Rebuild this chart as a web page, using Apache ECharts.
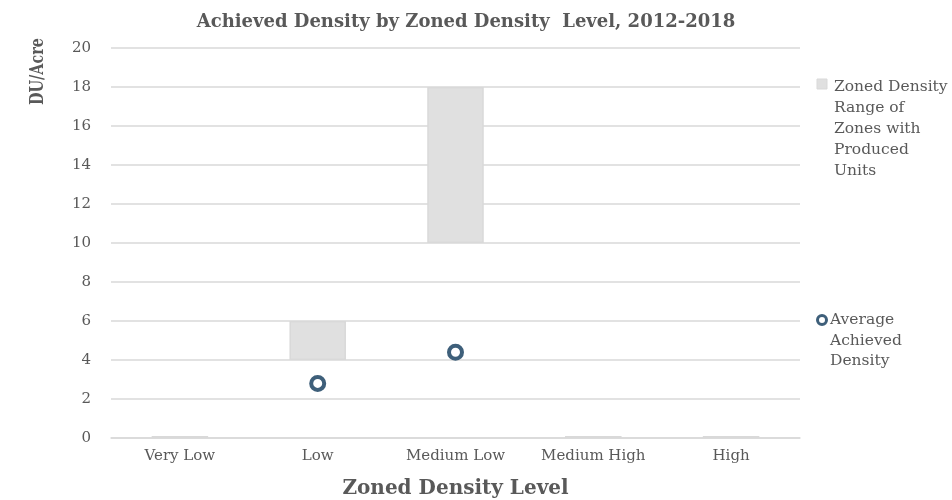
<!DOCTYPE html>
<html>
<head>
<meta charset="utf-8">
<script src="https://cdn.jsdelivr.net/npm/echarts@6/dist/echarts.min.js"></script>
<style>
  html, body { margin: 0; padding: 0; background: #fff; }
  #chart { width: 952px; height: 500px; }
</style>
</head>
<body>
<div id="chart"></div>
<script>
// Zoned density levels along the x axis
const categories = ['Very Low', 'Low', 'Medium Low', 'Medium High', 'High'];
// Zoned density range (DU/acre) of zones that produced units
const zoneMin = [0, 4, 10, 0, 0];
const zoneMax = [0, 6, 18, 0, 0];
// Average achieved density (DU/acre); null where nothing was built
const achieved = [null, 2.8, 4.4, null, null];
// Y axis ticks
const yTicks = [0, 2, 4, 6, 8, 10, 12, 14, 16, 18, 20];

const FONT = '"DejaVu Serif", "Liberation Serif", serif';
const TXT = '#595959';

const chart = echarts.init(document.getElementById('chart'), null, { renderer: 'canvas' });

const rangeSpan = zoneMax.map((v, i) => v - zoneMin[i]);

chart.setOption({
  animation: false,
  backgroundColor: '#fff',
  title: {
    text: 'Achieved Density by Zoned Density  Level, 2012-2018',
    left: 461, top: 8, textAlign: 'center',
    textStyle: { fontFamily: FONT, fontSize: 18, fontWeight: 'bold', color: TXT }
  },
  grid: { left: 111, right: 152, top: 48, bottom: 62, outerBoundsMode: 'none', containLabel: false },
  xAxis: {
    type: 'category',
    data: categories,
    axisLine: { lineStyle: { color: '#d9d9d9', width: 1.5 } },
    axisTick: { show: false },
    axisLabel: { fontFamily: FONT, fontSize: 15, color: TXT, margin: 11 },
    name: 'Zoned Density Level',
    nameLocation: 'middle',
    nameGap: 41,
    nameTextStyle: { fontFamily: FONT, fontSize: 20, fontWeight: 'bold', color: TXT }
  },
  yAxis: {
    type: 'value',
    min: yTicks[0], max: yTicks[yTicks.length - 1], interval: 2,
    axisLine: { show: false },
    axisTick: { show: false },
    splitLine: { lineStyle: { color: '#d9d9d9', width: 1.5 } },
    axisLabel: { fontFamily: FONT, fontSize: 15, color: TXT, margin: 20 }
  },
  graphic: [
    {
      type: 'text', rotation: Math.PI / 2, scaleX: 0.8,
      style: { text: 'DU/Acre', fontFamily: FONT, fontSize: 18, fontWeight: 'bold', fill: TXT },
      x: 29, y: 105
    },
    { type: 'rect', shape: { x: 817, y: 79, width: 10, height: 10 }, style: { fill: '#e0e0e0', stroke: '#d9d9d9', lineWidth: 1 } },
    {
      type: 'text', x: 834, y: 76,
      style: { text: 'Zoned Density\nRange of\nZones with\nProduced\nUnits', fontFamily: FONT, fontSize: 15.5, fill: TXT, lineHeight: 21 }
    },
    { type: 'circle', shape: { cx: 822, cy: 320, r: 4.5 }, style: { fill: '#fff', stroke: '#3e5f7a', lineWidth: 3 } },
    {
      type: 'text', x: 830, y: 310,
      style: { text: 'Average\nAchieved\nDensity', fontFamily: FONT, fontSize: 15.5, fill: TXT, lineHeight: 20.5 }
    }
  ],
  series: [
    {
      name: 'base', type: 'bar', stack: 'range', data: zoneMin, barWidth: '41%',
      itemStyle: { color: 'transparent' }, silent: true
    },
    {
      name: 'Zoned Density Range of Zones with Produced Units', type: 'bar', stack: 'range',
      data: rangeSpan, barWidth: '41%', barMinHeight: 2,
      itemStyle: { color: '#e0e0e0', borderColor: '#d9d9d9', borderWidth: 1.5 }
    },
    {
      name: 'Average Achieved Density', type: 'scatter', data: achieved,
      symbol: 'circle', symbolSize: 13,
      itemStyle: { color: '#fff', borderColor: '#3e5f7a', borderWidth: 4, opacity: 1 },
      z: 5
    }
  ]
});
</script>
</body>
</html>
